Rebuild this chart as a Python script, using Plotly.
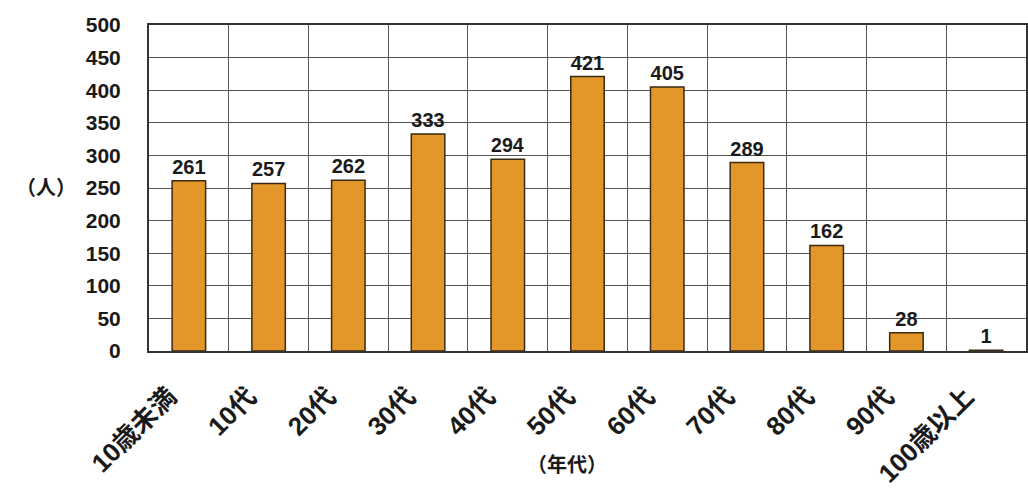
import plotly.graph_objects as go

categories = ["10歳未満", "10代", "20代", "30代", "40代", "50代", "60代", "70代", "80代", "90代", "100歳以上"]
values = [261, 257, 262, 333, 294, 421, 405, 289, 162, 28, 1]
y_ticks = [0, 50, 100, 150, 200, 250, 300, 350, 400, 450, 500]

FONT = "Liberation Sans, Arial, Noto Sans CJK JP, sans-serif"

fig = go.Figure(go.Bar(
    x=categories, y=values,
    marker=dict(color="#E3962A", line=dict(color="#3a2a10", width=1.5)),
    text=[str(v) for v in values], textposition="outside",
    textfont=dict(family=FONT, size=20, color="#1a1a1a", weight="bold"),
    cliponaxis=False,
))

fig.update_layout(
    width=1028, height=488,
    margin=dict(l=149, r=0, t=25, b=136),
    paper_bgcolor="white", plot_bgcolor="white",
    bargap=0.58,
    showlegend=False,
    font=dict(family=FONT, color="#1a1a1a"),
)
fig.update_xaxes(
    type="category", tickson="boundaries", showgrid=True, gridcolor="#555", gridwidth=1,
    tickangle=-45, tickfont=dict(family=FONT, size=26, color="#1a1a1a", weight="bold"),
    showline=True, linecolor="#333", linewidth=2, ticks="",
    mirror=True, ticklabelstandoff=18, ticklabelshift=-20,
)
fig.update_yaxes(
    range=[0, 500], tickvals=y_ticks, showgrid=True, gridcolor="#555", gridwidth=1,
    tickfont=dict(family=FONT, size=21, color="#1a1a1a", weight="bold"),
    showline=True, linecolor="#333", linewidth=2, ticks="", zeroline=False,
    mirror=True, ticklabelstandoff=22,
)
fig.add_annotation(text="（人）", x=-0.117, y=0.50, xref="paper", yref="paper",
                   xanchor="center", yanchor="middle",
                   showarrow=False, font=dict(family=FONT, size=20, color="#1a1a1a", weight="bold"))
fig.add_annotation(text="（年代）", x=0.477, y=-0.35, xref="paper", yref="paper",
                   xanchor="center", yanchor="middle",
                   showarrow=False, font=dict(family=FONT, size=20, color="#1a1a1a", weight="bold"))

fig.write_html("out.html")
